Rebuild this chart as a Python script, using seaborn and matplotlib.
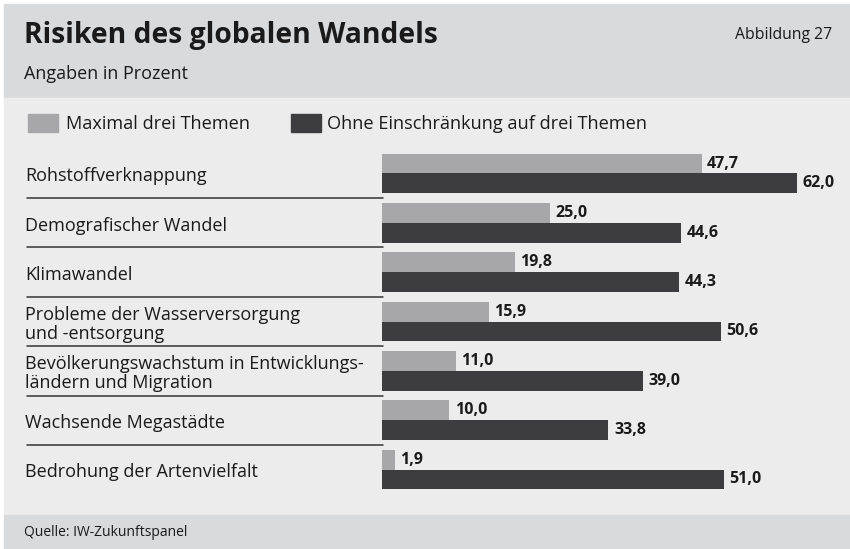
import pandas as pd
import matplotlib
matplotlib.use("Agg")
import matplotlib.pyplot as plt
import matplotlib.transforms as mtransforms
from matplotlib.patches import Rectangle
import seaborn as sns

# Chart data
categories = [
    "Rohstoffverknappung",
    "Demografischer Wandel",
    "Klimawandel",
    "Probleme der Wasserversorgung\nund -entsorgung",
    "Bevölkerungswachstum in Entwicklungs-\nländern und Migration",
    "Wachsende Megastädte",
    "Bedrohung der Artenvielfalt",
]
series = ["Maximal drei Themen", "Ohne Einschränkung auf drei Themen"]
max_three = [47.7, 25.0, 19.8, 15.9, 11.0, 10.0, 1.9]
unrestricted = [62.0, 44.6, 44.3, 50.6, 39.0, 33.8, 51.0]

colors = ["#a7a7a9", "#3d3d3f"]
text_col = "#1a1a1a"

df = pd.DataFrame({
    "Kategorie": categories * 2,
    "Serie": [series[0]] * len(categories) + [series[1]] * len(categories),
    "Wert": max_three + unrestricted,
})

sns.set_theme(style="white")
plt.rcParams["font.family"] = ["Open Sans", "DejaVu Sans"]

W, H = 850, 549
fig = plt.figure(figsize=(W / 100, H / 100), dpi=100, facecolor="white")

def fx(px):
    return px / W

def fy(py):
    return 1 - py / H

# background bands
fig.add_artist(Rectangle((fx(4), fy(98)), fx(846), 94 / H, transform=fig.transFigure,
                         color="#d9dadc", zorder=-10))
fig.add_artist(Rectangle((fx(4), fy(515)), fx(846), 417 / H, transform=fig.transFigure,
                         color="#ececec", zorder=-10))
fig.add_artist(Rectangle((fx(4), 0), fx(846), 34 / H, transform=fig.transFigure,
                         color="#d9dadc", zorder=-10))

# header texts
fig.text(fx(24), fy(36), "Risiken des globalen Wandels", fontsize=20.3, fontweight="bold",
         color=text_col, va="center", ha="left")
fig.text(fx(832), fy(35), "Abbildung 27", fontsize=11.3, color=text_col, va="center", ha="right")
fig.text(fx(24), fy(74), "Angaben in Prozent", fontsize=13, color=text_col, va="center", ha="left")
fig.text(fx(24), fy(532), "Quelle: IW-Zukunftspanel", fontsize=10, color=text_col,
         va="center", ha="left")

# legend
fig.add_artist(Rectangle((fx(28), fy(132)), fx(30), 18 / H, transform=fig.transFigure,
                         color=colors[0]))
fig.text(fx(66), fy(124), series[0], fontsize=13.1, color=text_col, va="center", ha="left")
fig.add_artist(Rectangle((fx(291), fy(132)), fx(30), 18 / H, transform=fig.transFigure,
                         color=colors[1]))
fig.text(fx(327), fy(124), series[1], fontsize=13.1, color=text_col, va="center", ha="left")

# bar area
ax = fig.add_axes([fx(382), fy(494.2), fx(468), (494.2 - 148.8) / H])
ax.set_facecolor("none")
sns.barplot(data=df, x="Wert", y="Kategorie", hue="Serie", orient="h", palette=colors,
            saturation=1, width=0.8, linewidth=0, legend=False, ax=ax)
ax.set_xlim(0, 468 / 6.7)
ax.set_ylim(len(categories) - 0.5, -0.5)
ax.set_xlabel("")
ax.set_ylabel("")
ax.set_xticks([])
ax.set_yticks([])
sns.despine(ax=ax, left=True, bottom=True)

for cont, vals in zip(ax.containers, [max_three, unrestricted]):
    ax.bar_label(cont, labels=[f"{v:.1f}".replace(".", ",") for v in vals], padding=4,
                 fontsize=11.5, fontweight="bold", color=text_col)

# category labels and separator lines
trans = mtransforms.blended_transform_factory(fig.transFigure, ax.transData)
for i, cat in enumerate(categories):
    ax.text(fx(25), i + 0.06, cat, transform=trans, fontsize=13, color=text_col,
            va="center", ha="left", linespacing=1.05, clip_on=False)
    if i < len(categories) - 1:
        ax.plot([fx(27), fx(383)], [i + 0.5, i + 0.5], transform=trans, color="#333333",
                linewidth=1.1, clip_on=False)

fig.savefig("out.png", dpi=100, facecolor="white")
